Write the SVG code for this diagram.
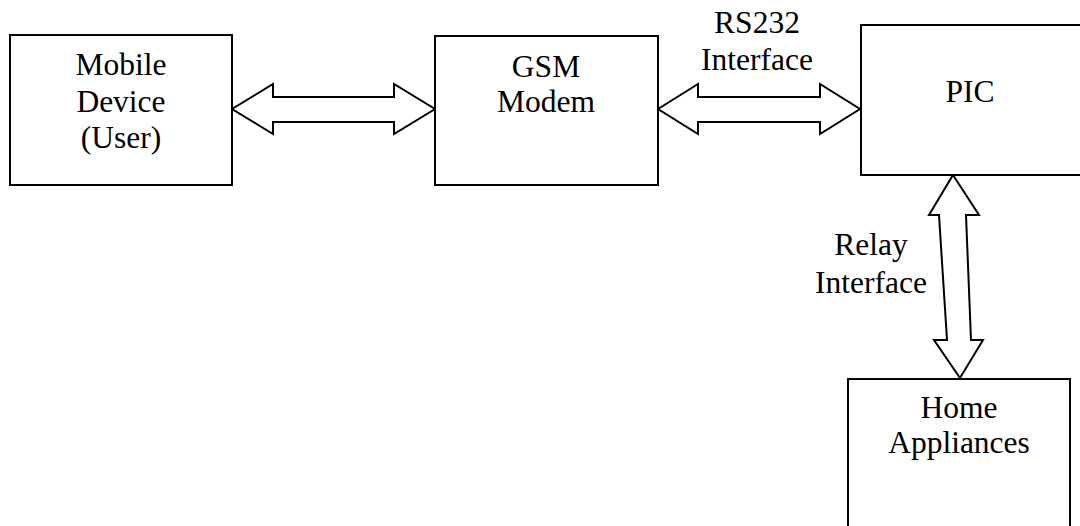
<svg xmlns="http://www.w3.org/2000/svg" width="1080" height="526" viewBox="0 0 1080 526">
<style>
.box{fill:#fff;stroke:#000;stroke-width:2}
.arr{fill:#fff;stroke:#000;stroke-width:2;stroke-linejoin:miter}
text{font-family:"Liberation Serif","Times New Roman",serif;font-size:31.5px;fill:#000;text-anchor:middle}
</style>
<rect width="1080" height="526" fill="#fff"/>
<g id="connectors">
<polygon class="arr" points="232,109 273,84 273,97 394,97 394,84 435,109 394,134 394,122 273,122 273,134"/>
<polygon class="arr" points="658,109 698,84 698,97 820,97 820,84 860,109 820,134 820,122 698,122 698,134"/>
<polygon class="arr" points="953,175 979,215 966,215 971,340 983,340 960,378 934,340 947,340 939,215 929,215"/>
<text x="757" y="33">RS232</text>
<text x="757" y="70">Interface</text>
<text x="871" y="255">Relay</text>
<text x="871" y="293">Interface</text>
</g>
<g id="mobile">
<rect class="box" x="10" y="35" width="222" height="150"/>
<text x="121" y="75">Mobile</text>
<text x="121" y="112">Device</text>
<text x="121" y="148">(User)</text>
</g>
<g id="gsm">
<rect class="box" x="435" y="36" width="223" height="149"/>
<text x="546" y="77">GSM</text>
<text x="546" y="112">Modem</text>
</g>
<g id="pic">
<rect class="box" x="861" y="25" width="225" height="150"/>
<text x="970" y="102">PIC</text>
</g>
<g id="home">
<rect class="box" x="848" y="379" width="222" height="160"/>
<text x="959" y="418">Home</text>
<text x="959" y="453">Appliances</text>
</g>
</svg>
